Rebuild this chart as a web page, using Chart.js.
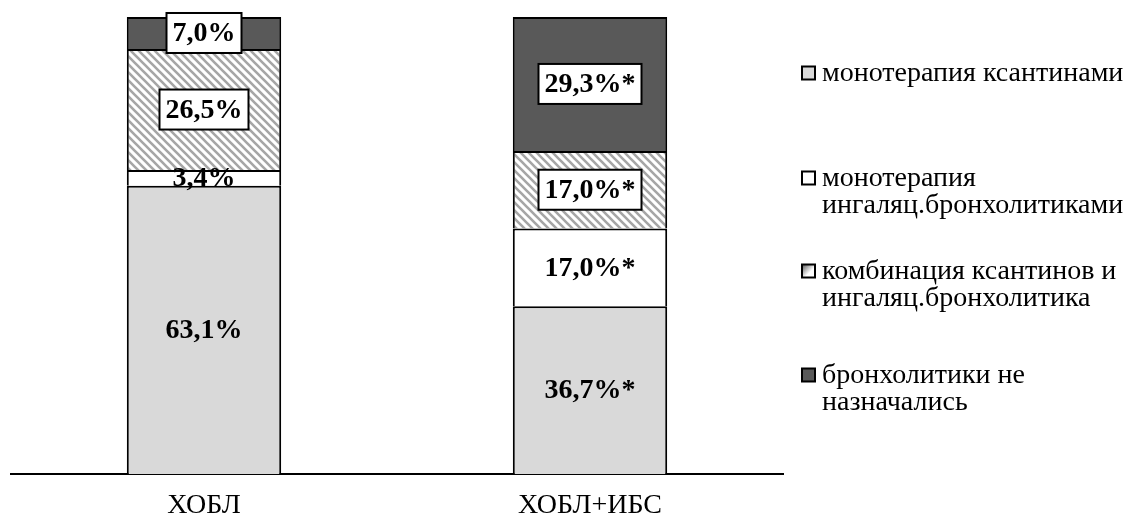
<!DOCTYPE html>
<html>
<head>
<meta charset="utf-8">
<script src="https://cdn.jsdelivr.net/npm/chart.js@4.4.0/dist/chart.umd.min.js"></script>
<style>
  html, body { margin: 0; padding: 0; background: #ffffff; }
  #wrap { width: 1128px; height: 525px; position: relative; }
</style>
</head>
<body>
<div id="wrap"><canvas id="c" width="1128" height="525"></canvas></div>
<script>
// Patient groups
const categories = ['ХОБЛ', 'ХОБЛ+ИБС'];

// Treatment groups (legend text, split into lines)
const seriesNames = [
  ['монотерапия ксантинами'],
  ['монотерапия', 'ингаляц.бронхолитиками'],
  ['комбинация ксантинов и', 'ингаляц.бронхолитика'],
  ['бронхолитики не', 'назначались']
];

// Share of patients, %
const xanthineMono = [63.1, 36.7];
const inhaledMono = [3.4, 17.0];
const combination = [26.5, 17.0];
const noBronchodilators = [7.0, 29.3];

// Groups whose differences are significant (marked with *)
const significant = [false, true];

const SERIF = '"Liberation Serif", "Times New Roman", serif';

function makeHatch(ctx) {
  const s = 8;
  const c = document.createElement('canvas');
  c.width = s; c.height = s;
  const g = c.getContext('2d');
  g.fillStyle = '#ffffff';
  g.fillRect(0, 0, s, s);
  g.strokeStyle = '#a6a6a6';
  g.lineWidth = 2.6;
  g.beginPath();
  g.moveTo(-2, -2); g.lineTo(s + 2, s + 2);
  g.moveTo(-2, s - 2); g.lineTo(2, s + 2);
  g.moveTo(s - 2, -2); g.lineTo(s + 2, 2);
  g.stroke();
  return ctx.createPattern(c, 'repeat');
}

function formatValue(v, i) {
  return v.toFixed(1).replace('.', ',') + '%' + (significant[i] ? '*' : '');
}

// Value labels in the middle of each segment, optionally framed
const valueLabels = {
  id: 'valueLabels',
  afterDatasetsDraw(chart) {
    const ctx = chart.ctx;
    ctx.save();
    ctx.font = 'bold 28px ' + SERIF;
    ctx.textAlign = 'center';
    ctx.textBaseline = 'middle';
    chart.data.datasets.forEach((ds, di) => {
      const meta = chart.getDatasetMeta(di);
      meta.data.forEach((bar, i) => {
        const text = formatValue(ds.data[i], i);
        const cx = bar.x;
        const cy = (bar.y + bar.base) / 2;
        if (ds.framedLabels) {
          const w = ctx.measureText(text).width + 12;
          const h = 40;
          ctx.fillStyle = '#ffffff';
          ctx.fillRect(cx - w / 2, cy - h / 2, w, h);
          ctx.lineWidth = 2;
          ctx.strokeStyle = '#000000';
          ctx.strokeRect(cx - w / 2, cy - h / 2, w, h);
        }
        ctx.fillStyle = '#000000';
        ctx.fillText(text, cx, cy + 1);
      });
    });
    ctx.restore();
  }
};

// Legend on the right, one entry per treatment group
const sideLegend = {
  id: 'sideLegend',
  afterDraw(chart) {
    const ctx = chart.ctx;
    const firstLineY = [73, 178, 271, 375];
    const lineH = 27;
    const boxX = 802, boxS = 13, textX = 822;
    ctx.save();
    ctx.font = '28px ' + SERIF;
    ctx.textAlign = 'left';
    ctx.textBaseline = 'middle';
    chart.data.datasets.forEach((ds, di) => {
      const y0 = firstLineY[di];
      const by = y0 - boxS / 2;
      if (ds.legendGradient) {
        const gr = ctx.createLinearGradient(boxX, by, boxX + boxS, by + boxS);
        gr.addColorStop(0, '#555555');
        gr.addColorStop(0.6, '#ffffff');
        gr.addColorStop(1, '#ffffff');
        ctx.fillStyle = gr;
      } else {
        ctx.fillStyle = ds.backgroundColor;
      }
      ctx.fillRect(boxX, by, boxS, boxS);
      ctx.lineWidth = 2;
      ctx.strokeStyle = '#000000';
      ctx.strokeRect(boxX, by, boxS, boxS);
      ctx.fillStyle = '#000000';
      seriesNames[di].forEach((line, li) => {
        ctx.fillText(line, textX, y0 + li * lineH + 1);
      });
    });
    ctx.restore();
  }
};

function draw() {
  const canvas = document.getElementById('c');
  const ctx = canvas.getContext('2d');
  const hatch = makeHatch(ctx);

  const common = {
    borderColor: '#000000',
    borderWidth: 2,
    borderSkipped: 'start',
    categoryPercentage: 0.8,
    barPercentage: 0.5
  };

  new Chart(ctx, {
    type: 'bar',
    data: {
      labels: categories,
      datasets: [
        Object.assign({ label: seriesNames[0].join(' '), data: xanthineMono, backgroundColor: '#d9d9d9' }, common),
        Object.assign({ label: seriesNames[1].join(' '), data: inhaledMono, backgroundColor: '#ffffff' }, common),
        Object.assign({ label: seriesNames[2].join(' '), data: combination, backgroundColor: hatch, framedLabels: true, legendGradient: true }, common),
        Object.assign({ label: seriesNames[3].join(' '), data: noBronchodilators, backgroundColor: '#595959', framedLabels: true }, common)
      ]
    },
    options: {
      responsive: false,
      animation: false,
      devicePixelRatio: 1,
      layout: { padding: { left: 11, right: 345, top: 17, bottom: 0 } },
      plugins: {
        legend: { display: false },
        tooltip: { enabled: false }
      },
      scales: {
        x: {
          stacked: true,
          grid: { display: false, drawTicks: false },
          border: { display: true, color: '#000000', width: 2 },
          ticks: {
            color: '#000000',
            padding: 15,
            font: { family: SERIF, size: 28 }
          },
          afterFit(scale) { scale.height = 51; }
        },
        y: {
          stacked: true,
          display: false,
          min: 0,
          max: 100
        }
      }
    },
    plugins: [valueLabels, sideLegend]
  });
}

if (document.fonts && document.fonts.load) {
  Promise.all([
    document.fonts.load('28px "Liberation Serif"'),
    document.fonts.load('bold 28px "Liberation Serif"')
  ]).then(draw, draw);
} else {
  draw();
}
</script>
</body>
</html>
